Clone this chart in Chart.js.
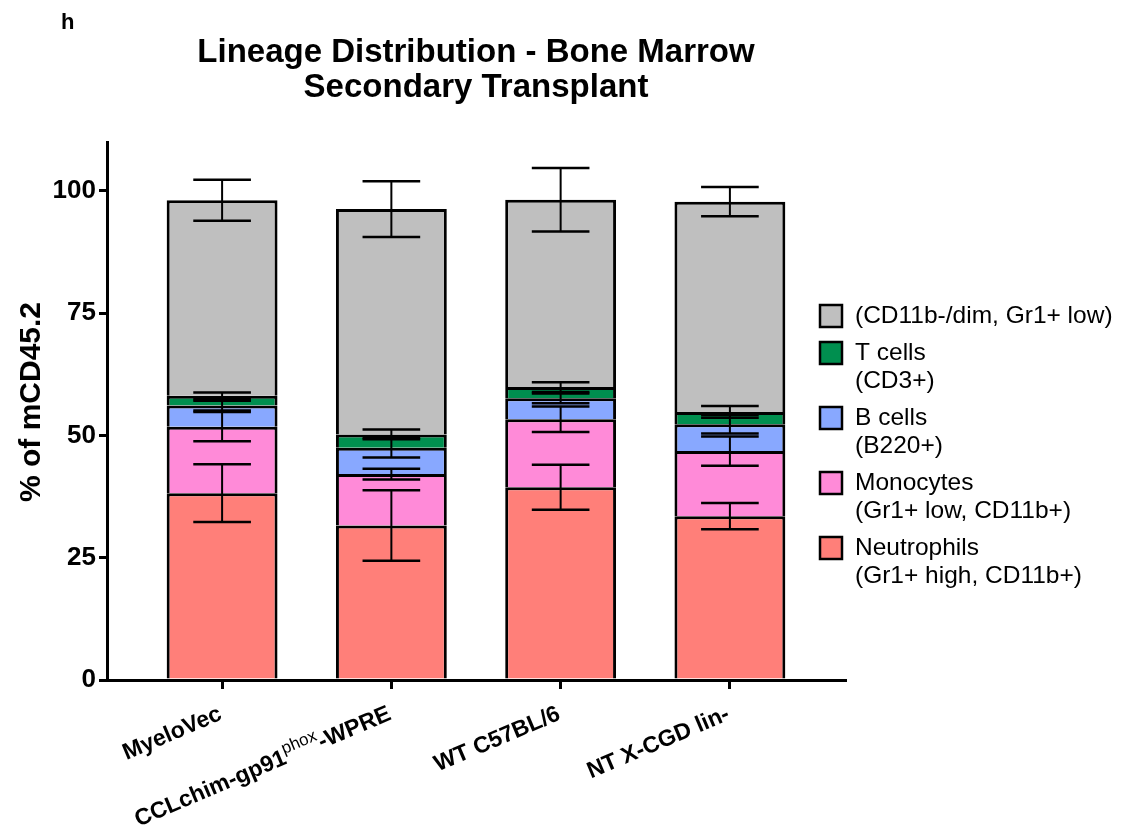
<!DOCTYPE html>
<html>
<head>
<meta charset="utf-8">
<script src="https://cdn.jsdelivr.net/npm/chart.js@4/dist/chart.umd.min.js"></script>
<style>
  html, body { margin: 0; padding: 0; background: #fff; }
  canvas { display: block; }
</style>
</head>
<body>
<canvas id="lineageChart" width="1122" height="832"></canvas>
<script>
const FONT = "'Liberation Sans', Arial, Helvetica, sans-serif";

const groups = ["MyeloVec", "CCLchim-gp91phox-WPRE", "WT C57BL/6", "NT X-CGD lin-"];
// pieces of each axis label, the middle piece of the second one is a superscript
const groupLabelParts = [
    ["MyeloVec"],
    ["CCLchim-gp91", "phox", "-WPRE"],
    ["WT C57BL/6"],
    ["NT X-CGD lin-"]
];

// mean % of mCD45.2 per lineage, bottom of the stack first
const neutrophils = [38.2, 31.6, 39.4, 33.5];
const monocytes = [13.6, 10.5, 13.9, 13.3];
const bCells = [4.3, 5.4, 4.3, 5.5];
const tCells = [2.0, 2.7, 2.3, 2.5];
const otherCells = [40.0, 46.1, 38.3, 43.0];

// SD for each segment
const neutrophilsSD = [5.9, 7.2, 4.6, 2.7];
const monocytesSD = [3.0, 1.1, 2.6, 3.0];
const bCellsSD = [1.0, 2.0, 1.0, 1.9];
const tCellsSD = [0.7, 1.0, 1.0, 1.2];
const otherCellsSD = [4.2, 5.7, 6.5, 3.0];

const yTicks = [0, 25, 50, 75, 100];

const neutrophilsLabel = ["Neutrophils", "(Gr1+ high, CD11b+)"];
const monocytesLabel = ["Monocytes", "(Gr1+ low, CD11b+)"];
const bCellsLabel = ["B cells", "(B220+)"];
const tCellsLabel = ["T cells", "(CD3+)"];
const otherCellsLabel = ["(CD11b-/dim, Gr1+ low)"];

const titleLines = ["Lineage Distribution - Bone Marrow", "Secondary Transplant"];
const panelLetter = "h";
const yAxisTitle = "% of mCD45.2";

function makeSet(lines, values, sd, color) {
    return {
        label: lines.join(" "),
        legendLines: lines,
        data: values.map((v, i) => ({ x: i, y: v })),
        sd: sd,
        backgroundColor: color,
        borderColor: "#000",
        borderWidth: 3,
        categoryPercentage: 1,
        barPercentage: 0.655
    };
}

const datasets = [
    makeSet(neutrophilsLabel, neutrophils, neutrophilsSD, "#FF7F79"),
    makeSet(monocytesLabel, monocytes, monocytesSD, "#FF8AD8"),
    makeSet(bCellsLabel, bCells, bCellsSD, "#88A8FF"),
    makeSet(tCellsLabel, tCells, tCellsSD, "#008F4F"),
    makeSet(otherCellsLabel, otherCells, otherCellsSD, "#BFBFBF")
];

// SD whiskers at the top of every stacked segment
const errorBars = {
    id: "errorBars",
    afterDatasetsDraw(chart) {
        const ctx = chart.ctx;
        const yScale = chart.scales.y;
        const totals = groups.map(() => 0);
        ctx.save();
        ctx.strokeStyle = "#000";
        chart.data.datasets.forEach((ds, d) => {
            const meta = chart.getDatasetMeta(d);
            meta.data.forEach((bar, i) => {
                totals[i] += ds.data[i].y;
                const hi = yScale.getPixelForValue(totals[i] + ds.sd[i]);
                const lo = yScale.getPixelForValue(totals[i] - ds.sd[i]);
                const half = bar.width * 0.26;
                ctx.lineWidth = 2;
                ctx.beginPath();
                ctx.moveTo(bar.x, hi);
                ctx.lineTo(bar.x, lo);
                ctx.stroke();
                ctx.lineWidth = 2.5;
                ctx.beginPath();
                ctx.moveTo(bar.x - half, hi);
                ctx.lineTo(bar.x + half, hi);
                ctx.moveTo(bar.x - half, lo);
                ctx.lineTo(bar.x + half, lo);
                ctx.stroke();
            });
        });
        ctx.restore();
    }
};

// title, axis title, slanted group names and the legend
const figureText = {
    id: "figureText",
    afterDraw(chart) {
        const ctx = chart.ctx;
        const area = chart.chartArea;
        const xScale = chart.scales.x;
        ctx.save();
        ctx.fillStyle = "#000";

        ctx.font = "bold 22px " + FONT;
        ctx.textAlign = "left";
        ctx.textBaseline = "alphabetic";
        ctx.fillText(panelLetter, 61, 29);

        ctx.font = "bold 33px " + FONT;
        ctx.textAlign = "center";
        const midX = (area.left + area.right) / 2;
        ctx.fillText(titleLines[0], midX, 62);
        ctx.fillText(titleLines[1], midX, 97);

        ctx.save();
        ctx.translate(40, 402);
        ctx.rotate(-Math.PI / 2);
        ctx.font = "bold 30px " + FONT;
        ctx.textAlign = "center";
        ctx.fillText(yAxisTitle, 0, 0);
        ctx.restore();

        // group names, baseline ending under the tick, turned 23 degrees
        groupLabelParts.forEach((parts, i) => {
            const tx = xScale.getPixelForValue(i);
            ctx.save();
            ctx.translate(tx + 1, area.bottom + 39);
            ctx.rotate(-23 * Math.PI / 180);
            ctx.textAlign = "left";
            const pieces = parts.map((p, k) => {
                const sup = parts.length === 3 && k === 1;
                const font = (sup ? "17px " : "bold 23px ") + FONT;
                ctx.font = font;
                return { text: p, font: font, w: ctx.measureText(p).width, sup: sup };
            });
            let x = -pieces.reduce((s, p) => s + p.w, 0);
            pieces.forEach(p => {
                ctx.font = p.font;
                ctx.fillText(p.text, x, p.sup ? -10 : 0);
                x += p.w;
            });
            ctx.restore();
        });

        // legend, top of the stack listed first
        ctx.font = "24.5px " + FONT;
        ctx.textAlign = "left";
        ctx.textBaseline = "middle";
        let y = 316;
        chart.data.datasets.slice().reverse().forEach(ds => {
            ctx.fillStyle = ds.backgroundColor;
            ctx.fillRect(820, y - 11, 22, 22);
            ctx.strokeStyle = "#000";
            ctx.lineWidth = 2.5;
            ctx.strokeRect(820, y - 11, 22, 22);
            ctx.fillStyle = "#000";
            ds.legendLines.forEach((line, k) => {
                ctx.fillText(line, 855, y + k * 28);
            });
            y += ds.legendLines.length * 28 + 9;
        });
        ctx.restore();
    }
};

const chart = new Chart(document.getElementById("lineageChart"), {
    type: "bar",
    data: { datasets: datasets },
    options: {
        responsive: false,
        animation: false,
        devicePixelRatio: 1,
        layout: { padding: { left: 47, right: 277, top: 142, bottom: 132 } },
        plugins: {
            legend: { display: false },
            title: { display: false },
            tooltip: { enabled: false }
        },
        scales: {
            x: {
                type: "linear",
                stacked: true,
                offset: false,
                min: -0.68,
                max: 3.68,
                afterFit: (scale) => { scale.height = 20; },
                afterBuildTicks: (scale) => {
                    scale.ticks = groups.map((g, i) => ({ value: i }));
                },
                ticks: { display: false },
                grid: {
                    display: true,
                    offset: false,
                    drawOnChartArea: false,
                    drawTicks: true,
                    tickLength: 9,
                    lineWidth: 3,
                    tickWidth: 3,
                    color: "#000",
                    tickColor: "#000"
                },
                border: { display: true, color: "#000", width: 3 }
            },
            y: {
                stacked: true,
                min: 0,
                max: 110,
                afterFit: (scale) => { scale.width = 60; },
                afterBuildTicks: (scale) => {
                    scale.ticks = yTicks.map(v => ({ value: v }));
                },
                ticks: {
                    color: "#000",
                    padding: 3,
                    font: { family: FONT, size: 26, weight: "bold" }
                },
                grid: {
                    display: true,
                    drawOnChartArea: false,
                    drawTicks: true,
                    tickLength: 8,
                    lineWidth: 3,
                    tickWidth: 3,
                    color: "#000",
                    tickColor: "#000"
                },
                border: { display: true, color: "#000", width: 3 }
            }
        }
    },
    plugins: [errorBars, figureText]
});
</script>
</body>
</html>
